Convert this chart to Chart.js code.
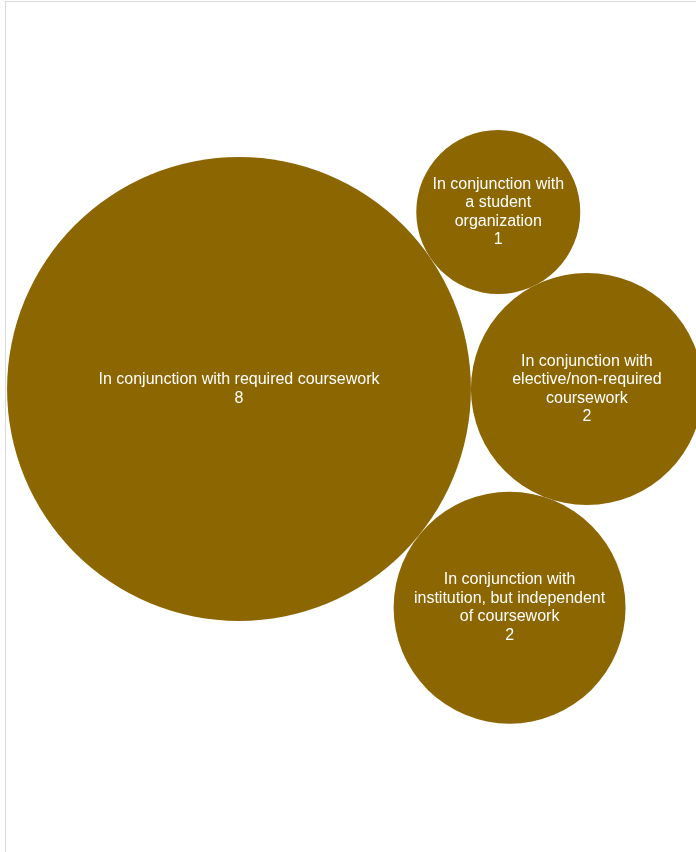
<!DOCTYPE html>
<html>
<head>
<meta charset="utf-8">
<script src="https://cdn.jsdelivr.net/npm/chart.js@4.4.1/dist/chart.umd.min.js"></script>
<style>
  html, body { margin: 0; padding: 0; background: #fff; }
  #wrap { position: relative; width: 696px; height: 852px; }
</style>
</head>
<body>
<div id="wrap"><canvas id="bubbles"></canvas></div>
<script>
"use strict";

var categories = [
    'In conjunction with required coursework',
    'In conjunction with elective/non-required coursework',
    'In conjunction with a student organization',
    'In conjunction with institution, but independent of coursework'
];
var counts = [8, 2, 1, 2];

var fill = '#8c6600';
var unit = 82;            // radius of a bubble with value 1
var origin = { x: 239, y: 389 };

// simple front-chain packing: first bubble at origin, second to its right,
// the rest tangent to both, alternating above and below
function tangent(a, b, r, side) {
    var dx = b.x - a.x, dy = b.y - a.y;
    var d = Math.sqrt(dx * dx + dy * dy);
    var da = a.r + r, db = b.r + r;
    var t = (da * da - db * db + d * d) / (2 * d);
    var h = Math.sqrt(Math.max(0, da * da - t * t));
    var ux = dx / d, uy = dy / d;
    return { x: a.x + t * ux + side * h * uy, y: a.y + t * uy - side * h * ux, r: r };
}

var points = [];
counts.forEach(function (v, i) {
    var r = unit * Math.sqrt(v);
    if (i === 0) {
        points.push({ x: origin.x, y: origin.y, r: r });
    } else if (i === 1) {
        points.push({ x: origin.x + points[0].r + r, y: origin.y, r: r });
    } else {
        points.push(tangent(points[0], points[1], r, i % 2 === 0 ? 1 : -1));
    }
});

function wrap(ctx, text, maxW) {
    var words = text.split(' ');
    var lines = [];
    var cur = '';
    words.forEach(function (w) {
        var test = cur ? cur + ' ' + w : w;
        if (cur && ctx.measureText(test).width > maxW) {
            lines.push(cur);
            cur = w;
        } else {
            cur = test;
        }
    });
    if (cur) lines.push(cur);
    return lines;
}

var frame = {
    id: 'frame',
    beforeDraw: function (chart) {
        var c = chart.ctx;
        c.save();
        c.strokeStyle = '#d9d9d9';
        c.lineWidth = 1;
        c.beginPath();
        c.moveTo(5.5, 1);
        c.lineTo(5.5, chart.height);
        c.moveTo(5, 1.5);
        c.lineTo(chart.width, 1.5);
        c.stroke();
        c.restore();
    }
};

var bubbleLabels = {
    id: 'bubbleLabels',
    afterDatasetsDraw: function (chart) {
        var c = chart.ctx;
        var meta = chart.getDatasetMeta(0);
        c.save();
        c.fillStyle = '#ffffff';
        c.font = '16px "Liberation Sans", Arial, sans-serif';
        c.textAlign = 'center';
        c.textBaseline = 'middle';
        var lh = 18.5;
        meta.data.forEach(function (el, i) {
            var r = points[i].r;
            var lines = wrap(c, categories[i], r * 1.68);
            lines.push(String(counts[i]));
            var y0 = el.y - (lines.length - 1) * lh / 2;
            lines.forEach(function (l, k) {
                c.fillText(l, el.x, y0 + k * lh);
            });
        });
        c.restore();
    }
};

var ctx = document.getElementById('bubbles').getContext('2d');
var myChart = new Chart(ctx, {
    type: 'bubble',
    data: {
        labels: categories,
        datasets: [{
            data: points,
            backgroundColor: fill,
            borderColor: fill,
            borderWidth: 0,
            hoverBackgroundColor: fill,
            clip: false
        }]
    },
    options: {
        responsive: true,
        maintainAspectRatio: false,
        animation: false,
        layout: { padding: 0, autoPadding: false },
        scales: {
            x: { display: false, min: 0, max: 696 },
            y: { display: false, min: 0, max: 852, reverse: true }
        },
        plugins: {
            legend: { display: false },
            tooltip: { enabled: false }
        }
    },
    plugins: [frame, bubbleLabels]
});
</script>
</body>
</html>
